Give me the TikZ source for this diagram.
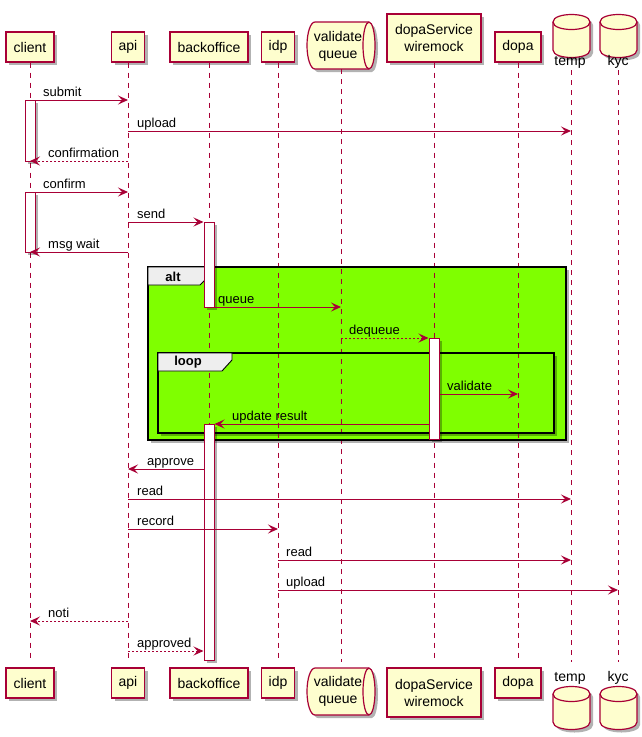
\documentclass[tikz,border=0pt]{standalone}
\usepackage{fontspec}
\setmainfont{Liberation Sans}
\usetikzlibrary{arrows.meta,shadows}
\definecolor{pred}{HTML}{A80036}
\definecolor{pfill}{HTML}{FEFECE}
\definecolor{altg}{HTML}{7FFF00}
\definecolor{tabg}{HTML}{EEEEEE}
\tikzset{
 shd/.style={drop shadow={shadow xshift=3pt,shadow yshift=-3pt,fill=black,opacity=0.3}},
 part/.style={draw=pred,fill=pfill,line width=1.2pt,shd,inner sep=0pt,align=center,font=\fontsize{14}{17}\selectfont},
 ptext/.style={inner sep=0pt,align=center,font=\fontsize{14}{17}\selectfont},
 life/.style={draw=pred,line width=0.9pt,dash pattern=on 5pt off 5pt},
 msg/.style={draw=pred,line width=1pt,-{Stealth[length=10pt,width=9pt,inset=4pt]}},
 ret/.style={msg,dash pattern=on 2pt off 2pt},
 lbl/.style={anchor=base west,inner sep=0pt,font=\fontsize{13}{15}\selectfont},
 actbox/.style={draw=pred,fill=white,line width=1pt,shd,inner sep=0pt,minimum width=10},
 frm/.style={draw=black,line width=1.6pt},
 tabshape/.style={draw=black,fill=tabg,line width=0.9pt},
 tabtxt/.style={font=\fontsize{13}{15}\selectfont\bfseries,inner sep=0pt},
 dbcyl/.pic={
  \path[fill=pfill,draw=pred,line width=1.2pt,shd] (0,8) .. controls (0,-2) and (37,-2) .. (37,8) -- (37,36) .. controls (37,46) and (0,46) .. (0,36) -- cycle;
  \draw[pred,line width=1.2pt] (0,8) .. controls (0,18) and (37,18) .. (37,8);
 },
 qshape/.pic={
  \path[fill=pfill,draw=pred,line width=1.2pt,shd] (8,0) -- (62,0) arc[start angle=-90,end angle=90,x radius=6,y radius=23.5] -- (8,47) arc[start angle=90,end angle=270,x radius=8,y radius=23.5] -- cycle;
  \draw[pred,line width=1.2pt] (62,0) arc[start angle=-90,end angle=-270,x radius=6,y radius=23.5];
 },
}
\begin{document}
\begin{tikzpicture}[x=1pt,y=-1pt]
\useasboundingbox[fill=white] (0,0) rectangle (642,737);

% group backgrounds
\fill[altg,shd] (148,267) rectangle (566,440);
\fill[altg,shd] (158,353) rectangle (554,433);

% participants (top)
\node[part,minimum width=48,minimum height=30] (client) at (30,47) {client};
\node[part,minimum width=33,minimum height=30] (api) at (128,47) {api};
\node[part,minimum width=78,minimum height=30] (backoffice) at (209,47) {backoffice};
\node[part,minimum width=33,minimum height=30] (idp) at (278,47) {idp};
\pic at (307,22) {qshape};
\node[ptext] (queue) at (338,46.5) {validate\\queue};
\node[part,minimum width=94,minimum height=48] (dopaS) at (434,38) {dopaService\\wiremock};
\node[part,minimum width=46,minimum height=30] (dopa) at (518,47) {dopa};
\pic at (553,14) {dbcyl};
\node[ptext] (temp) at (570,62) {temp};
\pic at (600,14) {dbcyl};
\node[ptext] (kyc) at (618,62) {kyc};

% participants (bottom)
\node[part,minimum width=48,minimum height=30] (clientB) at (30,683) {client};
\node[part,minimum width=33,minimum height=30] (apiB) at (128,683) {api};
\node[part,minimum width=78,minimum height=30] (backofficeB) at (209,683) {backoffice};
\node[part,minimum width=33,minimum height=30] (idpB) at (278,683) {idp};
\pic at (307,668) {qshape};
\node[ptext] (queueB) at (338,691.5) {validate\\queue};
\node[part,minimum width=94,minimum height=49] (dopaSB) at (434,692.5) {dopaService\\wiremock};
\node[part,minimum width=46,minimum height=30] (dopaB) at (518,683) {dopa};
\node[ptext] (tempB) at (570,678) {temp};
\pic at (553,686) {dbcyl};
\node[ptext] (kycB) at (618,678) {kyc};
\pic at (600,686) {dbcyl};

% lifelines
\coordinate (q1) at (341,69);   \coordinate (q2) at (341,662);
\coordinate (t1) at (571,70);   \coordinate (t2) at (571,662);
\coordinate (k1) at (618,70);   \coordinate (k2) at (618,662);
\coordinate (c2) at (30,662);   \coordinate (a2) at (128,662);
\coordinate (b2) at (209,662);  \coordinate (i2) at (278,662);
\coordinate (s2) at (434,662);  \coordinate (d2) at (518,662);
\draw[life] (client.south) -- (c2);
\draw[life] (api.south) -- (a2);
\draw[life] (backoffice.south) -- (b2);
\draw[life] (idp.south) -- (i2);
\draw[life] (q1) -- (q2);
\draw[life] (dopaS.south) -- (s2);
\draw[life] (dopa.south) -- (d2);
\draw[life] (t1) -- (t2);
\draw[life] (k1) -- (k2);

% group frames
\draw[frm] (148,267) rectangle (566,440);
\draw[tabshape] (148,267) -- (210,267) -- (210,275) -- (200,285) -- (148,285) -- cycle;
\node[tabtxt] (altlbl) at (173,276.5) {alt};
\draw[frm] (158,353) rectangle (554,433);
\draw[tabshape] (158,353) -- (232,353) -- (232,360) -- (222,371) -- (158,371) -- cycle;
\node[tabtxt] (looplbl) at (188,362.5) {loop};

% activation boxes
\node[actbox,minimum height=61] (ac1) at (30,130.5) {};
\node[actbox,minimum height=60] (ac2) at (30,222) {};
\node[actbox,minimum height=85] (ab1) at (209,264.5) {};
\node[actbox,minimum height=101] (ad1) at (434,388.5) {};
\node[actbox,minimum height=236] (ab2) at (209,542) {};

% messages
\draw[msg] (ac1.east |- 0,100) -- (api |- 0,100);
\node[lbl] (l1) at (43,96) {submit};
\draw[msg] (api |- 0,131) -- (t1 |- 0,131);
\node[lbl] (l2) at (137,127) {upload};
\draw[ret] (api |- 0,161) -- (client |- 0,161);
\node[lbl] (l3) at (48,157) {confirmation};
\draw[msg] (ac2.east |- 0,192) -- (api |- 0,192);
\node[lbl] (l4) at (43,188) {confirm};
\draw[msg] (api |- 0,222) -- (ab1.west |- 0,222);
\node[lbl] (l5) at (137,218) {send};
\draw[msg] (api |- 0,252) -- (client |- 0,252);
\node[lbl] (l6) at (48,248) {msg wait};
\draw[msg] (ab1.east |- 0,307) -- (q1 |- 0,307);
\node[lbl] (l7) at (218,303) {queue};
\draw[ret] (q1 |- 0,338) -- (ad1.west |- 0,338);
\node[lbl] (l8) at (349,334) {dequeue};
\draw[msg] (ad1.east |- 0,394) -- (dopa |- 0,394);
\node[lbl] (l9) at (447,390) {validate};
\draw[msg] (ad1.west |- 0,424) -- (ab2.east |- 0,424);
\node[lbl] (l10) at (232,420) {update result};
\draw[msg] (ab2.west |- 0,469) -- (api |- 0,469);
\node[lbl] (l11) at (147,465) {approve};
\draw[msg] (api |- 0,499) -- (t1 |- 0,499);
\node[lbl] (l12) at (137,495) {read};
\draw[msg] (api |- 0,529) -- (idp |- 0,529);
\node[lbl] (l13) at (137,525) {record};
\draw[msg] (idp |- 0,560) -- (t1 |- 0,560);
\node[lbl] (l14) at (286,556) {read};
\draw[msg] (idp |- 0,590) -- (k1 |- 0,590);
\node[lbl] (l15) at (286,586) {upload};
\draw[ret] (api |- 0,621) -- (client |- 0,621);
\node[lbl] (l16) at (48,617) {noti};
\draw[ret] (api |- 0,651) -- (ab2.west |- 0,651);
\node[lbl] (l17) at (137,647) {approved};
\end{tikzpicture}
\end{document}
